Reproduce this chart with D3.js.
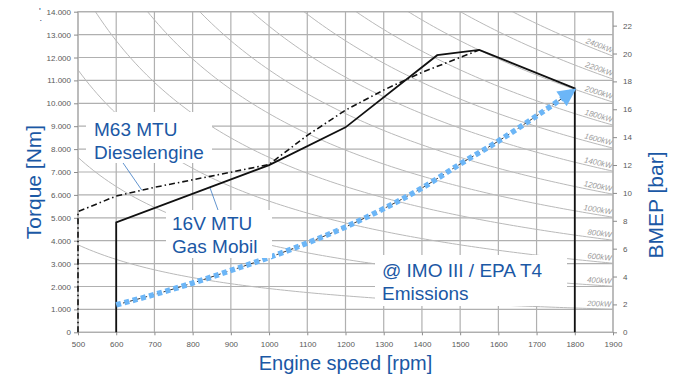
<!DOCTYPE html>
<html>
<head>
<meta charset="utf-8">
<script src="https://cdn.jsdelivr.net/npm/d3@7"></script>
<style>
    body { margin: 0; background: #fff; }
    svg { font-family: "Liberation Sans", Arial, sans-serif; }
</style>
</head>
<body>
<svg id="chart" width="679" height="379"></svg>
<script>
// axis ticks
const speedTicks = [500, 600, 700, 800, 900, 1000, 1100, 1200, 1300, 1400, 1500, 1600, 1700, 1800, 1900]
const torqueTicks = [0, 1000, 2000, 3000, 4000, 5000, 6000, 7000, 8000, 9000, 10000, 11000, 12000, 13000, 14000]
const bmepTicks = [0, 2, 4, 6, 8, 10, 12, 14, 16, 18, 20, 22]

// constant power lines (kW) drawn in the background
const powerLevels = [200, 400, 600, 800, 1000, 1200, 1400, 1600, 1800, 2000, 2200, 2400]

// M63 MTU diesel engine (dash-dot)
const dieselSpeed = [500, 500, 600, 700, 800, 900, 1000, 1100, 1200, 1300, 1400, 1550]
const dieselTorque = [0, 5270, 5950, 6330, 6660, 6990, 7330, 8600, 9700, 10580, 11350, 12330]

// 16V MTU gas engine (solid)
const gasSpeed = [600, 600, 1000, 1200, 1440, 1550, 1800, 1800]
const gasTorque = [0, 4800, 7300, 8950, 12100, 12330, 10650, 0]

// IMO III / EPA T4 emissions path (blue arrow)
const emissionSpeed = [600, 700, 800, 900, 1000, 1100, 1200, 1300, 1400, 1500, 1600, 1700, 1800]
const emissionTorque = [1200, 1650, 2150, 2700, 3270, 3900, 4600, 5400, 6300, 7350, 8350, 9450, 10600]

// where the callout leaders touch the curves (rpm)
const dieselLeaderSpeed = 667
const gasLeaderSpeed = 845

const BLUE_TEXT = "#1b58a5"
const GRID = "#b0b0b0"

const svg = d3.select("#chart")
const plot = { left: 78, right: 613, top: 11.7, bottom: 332.3 }

const x = d3.scaleLinear().domain([500, 1900]).range([plot.left, plot.right])
const y = d3.scaleLinear().domain([0, 14000]).range([plot.bottom, plot.top])
const yBmep = d3.scaleLinear().domain([0, 23]).range([plot.bottom, plot.top])

const zip = (xs, ys) => xs.map((v, i) => [v, ys[i]])
const line = d3.line().x((d) => x(d[0])).y((d) => y(d[1]))

const defs = svg.append("defs")
defs.append("clipPath")
    .attr("id", "plot-clip")
    .append("rect")
    .attr("x", plot.left)
    .attr("y", plot.top)
    .attr("width", plot.right - plot.left)
    .attr("height", plot.bottom - plot.top)

defs.append("marker")
    .attr("id", "arrow")
    .attr("viewBox", "0 0 10 10")
    .attr("refX", 9)
    .attr("refY", 5)
    .attr("markerUnits", "userSpaceOnUse")
    .attr("markerWidth", 21)
    .attr("markerHeight", 18)
    .attr("orient", "auto")
    .append("path")
    .attr("d", "M0,0 L10,5 L0,10 z")
    .attr("fill", "#6cb6f7")

// grid
const grid = svg.append("g")
grid.selectAll("line.v")
    .data(speedTicks)
    .join("line")
    .attr("x1", (d) => x(d))
    .attr("x2", (d) => x(d))
    .attr("y1", plot.top)
    .attr("y2", plot.bottom)
    .attr("stroke", GRID)
    .attr("stroke-width", 1.2)
grid.selectAll("line.h")
    .data(torqueTicks)
    .join("line")
    .attr("x1", plot.left)
    .attr("x2", plot.right)
    .attr("y1", (d) => y(d))
    .attr("y2", (d) => y(d))
    .attr("stroke", GRID)
    .attr("stroke-width", 1.2)

// constant power hyperbolas: T[Nm] = 9549.3 * P[kW] / n[rpm]
const powerTorque = (kw, rpm) => 9549.3 * kw / rpm
const sampleSpeeds = d3.range(500, 1901, 10)
const powerLines = svg.append("g").attr("clip-path", "url(#plot-clip)")
powerLines.selectAll("path")
    .data(powerLevels)
    .join("path")
    .attr("fill", "none")
    .attr("stroke", "#b9b9b9")
    .attr("stroke-width", 1)
    .attr("d", (kw) => line(sampleSpeeds.map((n) => [n, powerTorque(kw, n)])))

// power labels at the right edge, following the curve slope
const labelEnd = 1895
powerLines.selectAll("text")
    .data(powerLevels)
    .join("text")
    .attr("transform", (kw) => {
        const n = labelEnd
        const px = x(n)
        const py = y(powerTorque(kw, n))
        const dy = y(powerTorque(kw, n + 50)) - py
        const dx = x(n + 50) - px
        const angle = (Math.atan2(dy, dx) * 180) / Math.PI
        return `translate(${px}, ${py}) rotate(${angle})`
    })
    .attr("dy", -2.5)
    .attr("text-anchor", "end")
    .attr("font-size", 7.8)
    .attr("font-style", "italic")
    .attr("fill", "#9a9a9a")
    .text((kw) => `${kw}kW`)

// frame
svg.append("rect")
    .attr("x", plot.left)
    .attr("y", plot.top)
    .attr("width", plot.right - plot.left)
    .attr("height", plot.bottom - plot.top)
    .attr("fill", "none")
    .attr("stroke", GRID)
    .attr("stroke-width", 1.2)

// axes
const tickFormat = (d) => d3.format(",")(d).replace(/,/g, ".")
const styleAxis = (g) => {
    g.select(".domain").remove()
    g.selectAll(".tick line").attr("stroke", "#8c8c8c")
    g.selectAll(".tick text")
        .attr("fill", "#595959")
        .attr("font-size", 8)
        .attr("font-family", "Liberation Sans, Arial, sans-serif")
}

svg.append("g")
    .attr("transform", `translate(${plot.left}, 0)`)
    .call(d3.axisLeft(y).tickValues(torqueTicks).tickFormat(tickFormat).tickSize(4).tickPadding(3))
    .call(styleAxis)

svg.append("g")
    .attr("transform", `translate(${plot.right}, 0)`)
    .call(d3.axisRight(yBmep).tickValues(bmepTicks).tickSize(4).tickPadding(6))
    .call(styleAxis)

svg.append("g")
    .attr("transform", `translate(0, ${plot.bottom})`)
    .call(d3.axisBottom(x).tickValues(speedTicks).tickFormat(d3.format("d")).tickSize(3).tickPadding(6))
    .call(styleAxis)

// axis titles
svg.append("text")
    .attr("transform", "translate(345.5, 370)")
    .attr("text-anchor", "middle")
    .attr("font-size", 20)
    .attr("fill", BLUE_TEXT)
    .text("Engine speed [rpm]")

svg.append("text")
    .attr("transform", "translate(41, 182) rotate(-90)")
    .attr("text-anchor", "middle")
    .attr("font-size", 21)
    .attr("fill", BLUE_TEXT)
    .text("Torque [Nm]")

svg.append("text")
    .attr("transform", "translate(663, 205) rotate(-90)")
    .attr("text-anchor", "middle")
    .attr("font-size", 21)
    .attr("fill", BLUE_TEXT)
    .text("BMEP [bar]")

// small marks at the top left corner of the original slide
svg.append("text")
    .attr("x", 39)
    .attr("y", 14)
    .attr("font-size", 9)
    .attr("fill", "#1b3f7a")
    .text("'")
svg.append("text")
    .attr("x", 39.5)
    .attr("y", 21)
    .attr("font-size", 9)
    .attr("fill", "#1b3f7a")
    .text(".")

// callout boxes (white, hide the grid behind the text)
const callouts = [
    { lines: ["M63 MTU", "Dieselengine"], x: 94, y: 136, box: [86, 112, 126, 51] },
    { lines: ["16V MTU", "Gas Mobil"], x: 172, y: 230, box: [166, 210, 106, 48] },
    { lines: ["@ IMO III / EPA T4", "Emissions"], x: 382, y: 277, box: [375, 255, 192, 51] },
]
const calloutG = svg.append("g")
callouts.forEach((c) => {
    calloutG.append("rect")
        .attr("x", c.box[0])
        .attr("y", c.box[1])
        .attr("width", c.box[2])
        .attr("height", c.box[3])
        .attr("fill", "#fff")
})

// leader lines
const interp = (xs, ys, v) => {
    for (let i = 1; i < xs.length; i++) {
        if (v >= xs[i - 1] && v <= xs[i] && xs[i] !== xs[i - 1]) {
            return ys[i - 1] + ((v - xs[i - 1]) / (xs[i] - xs[i - 1])) * (ys[i] - ys[i - 1])
        }
    }
    return ys[ys.length - 1]
}
const leaders = [
    { from: [121, 160], to: [dieselLeaderSpeed, interp(dieselSpeed, dieselTorque, dieselLeaderSpeed)] },
    { from: [218, 210], to: [gasLeaderSpeed, interp(gasSpeed, gasTorque, gasLeaderSpeed)] },
]
svg.append("g")
    .selectAll("line")
    .data(leaders)
    .join("line")
    .attr("x1", (d) => d.from[0])
    .attr("y1", (d) => d.from[1])
    .attr("x2", (d) => x(d.to[0]))
    .attr("y2", (d) => y(d.to[1]))
    .attr("stroke", "#3a78c2")
    .attr("stroke-width", 0.8)

// series
svg.append("path")
    .datum(zip(dieselSpeed, dieselTorque))
    .attr("fill", "none")
    .attr("stroke", "#111")
    .attr("stroke-width", 1.6)
    .attr("stroke-dasharray", "6,3,1.5,3")
    .attr("d", line)

svg.append("path")
    .datum(zip(gasSpeed, gasTorque))
    .attr("fill", "none")
    .attr("stroke", "#111")
    .attr("stroke-width", 1.8)
    .attr("d", line)

const emission = zip(emissionSpeed, emissionTorque)
const smooth = d3.line().x((d) => x(d[0])).y((d) => y(d[1])).curve(d3.curveMonotoneX)
svg.append("path")
    .datum(emission)
    .attr("fill", "none")
    .attr("stroke", "#333")
    .attr("stroke-width", 1)
    .attr("stroke-dasharray", "4,3")
    .attr("d", smooth)

svg.append("path")
    .datum(emission)
    .attr("fill", "none")
    .attr("stroke", "#6cb6f7")
    .attr("stroke-width", 5.5)
    .attr("stroke-dasharray", "5,3.5")
    .attr("marker-end", "url(#arrow)")
    .attr("d", smooth)

// callout texts
callouts.forEach((c) => {
    const t = calloutG.append("text")
        .attr("x", c.x)
        .attr("y", c.y)
        .attr("font-size", 19)
        .attr("fill", BLUE_TEXT)
    c.lines.forEach((s, i) => {
        t.append("tspan").attr("x", c.x).attr("dy", i === 0 ? 0 : 23).text(s)
    })
})
calloutG.raise()
</script>
</body>
</html>
